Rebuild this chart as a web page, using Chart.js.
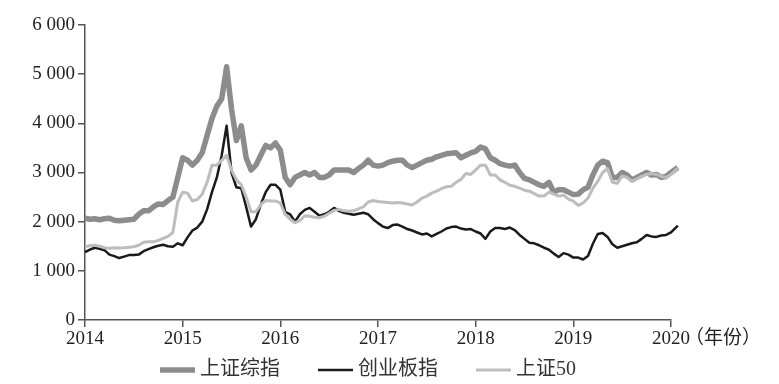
<!DOCTYPE html>
<html><head><meta charset="utf-8">
<script src="https://cdn.jsdelivr.net/npm/chart.js@4/dist/chart.umd.min.js"></script>
<style>html,body{margin:0;padding:0;background:#fff}#wrap{width:779px;height:384px}</style>
</head><body><div id="wrap"><canvas id="c" width="779" height="384"></canvas></div>
<script>
const seriesNames = ["上证综指", "创业板指", "上证50"];
const dates = [
2014,2014.05,2014.1,2014.15,2014.2,2014.25,2014.3,2014.35,2014.4,2014.45,2014.5,2014.55,2014.6,2014.65,2014.7,2014.75,2014.8,2014.85,2014.9,2014.95,
2015,2015.05,2015.1,2015.15,2015.2,2015.25,2015.3,2015.35,2015.4,2015.45,2015.5,2015.55,2015.6,2015.65,2015.7,2015.75,2015.8,2015.85,2015.9,2015.95,
2016,2016.05,2016.1,2016.15,2016.2,2016.25,2016.3,2016.35,2016.4,2016.45,2016.5,2016.55,2016.6,2016.65,2016.7,2016.75,2016.8,2016.85,2016.9,2016.95,
2017,2017.05,2017.1,2017.15,2017.2,2017.25,2017.3,2017.35,2017.4,2017.45,2017.5,2017.55,2017.6,2017.65,2017.7,2017.75,2017.8,2017.85,2017.9,2017.95,
2018,2018.05,2018.1,2018.15,2018.2,2018.25,2018.3,2018.35,2018.4,2018.45,2018.5,2018.55,2018.6,2018.65,2018.7,2018.75,2018.8,2018.85,2018.9,2018.95,
2019,2019.05,2019.1,2019.15,2019.2,2019.25,2019.3,2019.35,2019.4,2019.45,2019.5,2019.55,2019.6,2019.65,2019.7,2019.75,2019.8,2019.85,2019.9,2019.95,
2020,2020.07];
const shComposite = [
2070,2050,2060,2040,2060,2070,2030,2020,2030,2040,2050,2150,2220,2220,2300,2360,2350,2430,2500,2900,
3300,3250,3150,3250,3400,3750,4100,4350,4500,5150,4300,3650,3950,3300,3050,3150,3350,3550,3500,3600,
3450,2900,2750,2900,2950,3000,2950,3000,2900,2900,2950,3050,3050,3050,3050,3000,3080,3150,3250,3150,
3130,3150,3200,3230,3250,3250,3150,3100,3150,3200,3250,3270,3320,3350,3380,3390,3400,3300,3350,3400,
3430,3520,3480,3300,3250,3180,3150,3130,3150,3000,2880,2850,2800,2750,2720,2800,2600,2650,2650,2600,
2550,2560,2650,2700,2950,3150,3230,3200,2900,2900,3000,2950,2850,2900,2950,3000,2950,2960,2900,2920,
3000,3100];
const chiNext = [
1380,1430,1470,1450,1420,1330,1300,1260,1290,1320,1320,1330,1400,1440,1480,1510,1530,1500,1490,1560,
1520,1680,1820,1880,2000,2250,2600,2900,3350,3950,3000,2700,2680,2300,1900,2050,2350,2600,2750,2750,
2650,2200,2150,2000,2150,2240,2280,2200,2120,2150,2200,2280,2220,2180,2160,2140,2160,2180,2150,2050,
1970,1900,1870,1930,1940,1900,1850,1820,1780,1740,1760,1700,1750,1800,1860,1890,1900,1860,1840,1850,
1800,1760,1650,1800,1870,1870,1850,1880,1830,1730,1650,1570,1560,1520,1470,1430,1350,1280,1360,1330,
1270,1270,1230,1300,1550,1750,1770,1690,1540,1470,1500,1530,1560,1580,1650,1730,1700,1690,1720,1730,
1780,1920];
const sse50 = [
1490,1510,1520,1500,1470,1460,1470,1465,1470,1480,1490,1520,1580,1590,1590,1620,1660,1700,1780,2400,
2600,2580,2420,2450,2560,2800,3150,3150,3250,3350,3050,2850,2750,2500,2200,2200,2350,2430,2420,2420,
2380,2150,2050,1980,2020,2120,2110,2090,2080,2110,2170,2230,2250,2220,2210,2220,2260,2300,2400,2430,
2410,2400,2390,2380,2390,2380,2360,2340,2400,2480,2520,2580,2620,2670,2710,2720,2800,2860,2980,2960,
3050,3150,3150,2950,2950,2850,2800,2740,2720,2680,2640,2620,2570,2520,2520,2600,2560,2520,2540,2460,
2420,2330,2380,2480,2680,2820,3000,3080,2800,2780,2930,2900,2820,2870,2920,2960,2980,2960,2920,2900,
2960,3090];
const yTicks = [0,1000,2000,3000,4000,5000,6000];
const xTicks = [2014,2015,2016,2017,2018,2019,2020];
const xUnitLabel = "（年份）";

const toPts = arr => arr.map((v,i)=>({x:dates[i], y:v}));
const tickFont = {family:'"Liberation Serif","Noto Sans CJK SC"', size:19};
const axisColor = '#555';

const extras = {
  id:'extras',
  afterDraw(chart){
    const ctx = chart.ctx, ca = chart.chartArea, xs = chart.scales.x;
    ctx.save();
    ctx.fillStyle = '#222';
    ctx.font = '19px "Liberation Serif","Noto Sans CJK SC"';
    ctx.textBaseline = 'middle';
    ctx.textAlign = 'left';
    ctx.fillText(xUnitLabel, xs.getPixelForValue(2020) + 14, ca.bottom + 19);
    ctx.font = '20px "Liberation Serif","Noto Sans CJK SC"';
    const lineLen = 35, gap = 5, itemGap = 38;
    const ds = chart.data.datasets;
    let total = 0;
    ds.forEach((d,i)=>{ total += lineLen + gap + ctx.measureText(d.label).width + (i<ds.length-1?itemGap:0); });
    let x = (ca.left + ca.right)/2 - total/2 - 10;
    const y = 370;
    ds.forEach(d=>{
      ctx.strokeStyle = d.borderColor; ctx.lineWidth = d.borderWidth; ctx.lineCap='butt';
      ctx.beginPath(); ctx.moveTo(x, y); ctx.lineTo(x+lineLen, y); ctx.stroke();
      x += lineLen + gap;
      ctx.fillStyle = '#333';
      ctx.fillText(d.label, x, y);
      x += ctx.measureText(d.label).width + itemGap;
    });
    ctx.restore();
  }
};

new Chart(document.getElementById('c'), {
  type:'line',
  data:{datasets:[
    {label:seriesNames[0], data:toPts(shComposite), borderColor:'#8c8c8c', borderWidth:5.5, order:3, clip:false},
    {label:seriesNames[1], data:toPts(chiNext), borderColor:'#1a1a1a', borderWidth:2.5, order:2, clip:false},
    {label:seriesNames[2], data:toPts(sse50), borderColor:'#bdbdbd', borderWidth:3, order:1, clip:false}
  ]},
  options:{
    responsive:false, animation:false,
    layout:{padding:{left:0, right:108, top:25, bottom:34}},
    elements:{point:{radius:0}, line:{tension:0, borderJoinStyle:'round', fill:false}},
    plugins:{legend:{display:false}, tooltip:{enabled:false}},
    scales:{
      x:{type:'linear',
        afterDataLimits(s){ s.min = xTicks[0]; s.max = xTicks[xTicks.length-1]; },
        afterBuildTicks(s){ s.ticks = xTicks.map(v=>({value:v})); },
        afterFit(s){ s.height = 30; },
        grid:{display:true, drawOnChartArea:false, drawTicks:true, tickLength:7, color:axisColor, lineWidth:1.5},
        border:{display:true, color:axisColor, width:1.5},
        ticks:{font:tickFont, color:'#222', padding:1, maxRotation:0, autoSkip:false, callback:v=>String(v)}
      },
      y:{min:0, max:6000,
        afterBuildTicks(s){ s.ticks = yTicks.map(v=>({value:v})); },
        afterFit(s){ s.width = 85; },
        grid:{display:true, drawOnChartArea:false, drawTicks:true, tickLength:7, color:axisColor, lineWidth:1.5},
        border:{display:true, color:axisColor, width:1.5},
        ticks:{font:tickFont, color:'#222', padding:3, callback:v=>String(v).replace(/\B(?=(\d{3})+(?!\d))/g,' ')}
      }
    }
  },
  plugins:[extras]
});
</script></body></html>
